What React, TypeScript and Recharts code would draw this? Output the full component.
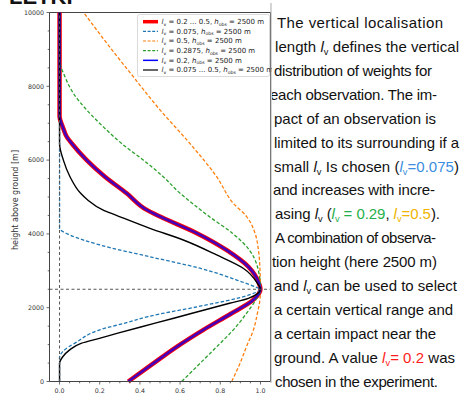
import React from "react";
import { LineChart, Line, XAxis, YAxis, ReferenceLine } from "recharts";

// [height above ground (m), weight]
const LV_02: [number, number][] = [
  [0, 0.342], [490, 0.467], [940, 0.583], [1400, 0.716], [1850, 0.857], [2210, 0.964],
  [2500, 1.0], [2700, 0.99], [3110, 0.94], [3560, 0.832], [4020, 0.683], [4470, 0.5],
  [4650, 0.434], [5100, 0.334], [5550, 0.226], [6000, 0.135], [6450, 0.061], [6630, 0.036],
  [6900, 0.016], [7180, 0], [10000, 0],
];
const LV_0075: [number, number][] = [
  [0, 0], [650, 0], [720, 0.004], [810, 0.016], [940, 0.045], [1035, 0.075], [1400, 0.2],
  [1590, 0.33], [1760, 0.44], [2030, 0.69], [2340, 0.94], [2500, 1.0], [2550, 0.98],
  [2750, 0.882], [3070, 0.699], [3380, 0.45], [3700, 0.201], [3970, 0.052], [4150, 0], [10000, 0],
];
const LV_05: [number, number][] = [
  [0, 0.857], [490, 0.898], [940, 0.93], [1400, 0.965], [1850, 0.985], [2200, 0.997],
  [2500, 1.0], [3110, 0.997], [3560, 0.99], [4020, 0.973], [4470, 0.931], [4830, 0.865],
  [5550, 0.782], [6450, 0.649], [7360, 0.5], [8260, 0.367], [9170, 0.235], [10000, 0.12],
];
const LV_02875: [number, number][] = [
  [0, 0.608], [490, 0.699], [940, 0.782], [1400, 0.865], [1850, 0.931], [2200, 0.975],
  [2500, 1.0], [3110, 0.985], [3560, 0.945], [4020, 0.86], [4470, 0.745], [4920, 0.64],
  [5100, 0.6], [5550, 0.516], [6000, 0.417], [6450, 0.309], [6900, 0.218], [7360, 0.135],
  [7810, 0.069], [8260, 0.027], [8710, 0], [10000, 0],
];
const LV_MIX: [number, number][] = [
  [0, 0], [490, 0], [670, 0.016], [850, 0.049], [1035, 0.107], [1170, 0.198], [1310, 0.29],
  [1580, 0.476], [1850, 0.66], [2120, 0.846], [2255, 0.94], [2500, 1.0], [2660, 0.985],
  [3070, 0.914], [3430, 0.782], [3835, 0.616], [4150, 0.45], [4510, 0.28], [4650, 0.215],
  [4920, 0.14], [5100, 0.105], [5550, 0.052], [6000, 0.019], [6450, 0], [10000, 0],
];

const H_OBS = 2500;
const X_TICKS = [0, 0.05, 0.1, 0.15, 0.2, 0.25, 0.3, 0.35, 0.4, 0.45, 0.5, 0.55, 0.6, 0.65, 0.7, 0.75, 0.8, 0.85, 0.9, 0.95, 1.0];
const X_MAJOR = [0, 0.2, 0.4, 0.6, 0.8, 1.0];
const Y_TICKS = [0, 500, 1000, 1500, 2000, 2500, 3000, 3500, 4000, 4500, 5000, 5500, 6000, 6500, 7000, 7500, 8000, 8500, 9000, 9500, 10000];
const Y_MAJOR = [0, 2000, 4000, 6000, 8000, 10000];

const SERIES = [
  { key: "red", pts: LV_02, label: "0.2 ... 0.5", stroke: "#ff0000", width: 4.5, dash: undefined, opacity: 1 },
  { key: "b0075", pts: LV_0075, label: "0.075", stroke: "#1f77b4", width: 1.3, dash: "3.5 2", opacity: 1 },
  { key: "o05", pts: LV_05, label: "0.5", stroke: "#ff7f0e", width: 1.3, dash: "3.5 2", opacity: 1 },
  { key: "g02875", pts: LV_02875, label: "0.2875", stroke: "#2ca02c", width: 1.3, dash: "3.5 2", opacity: 1 },
  { key: "b02", pts: LV_02, label: "0.2", stroke: "#0000ff", width: 2.7, dash: undefined, opacity: 0.72 },
  { key: "k", pts: LV_MIX, label: "0.075 ... 0.5", stroke: "#000000", width: 1.4, dash: undefined, opacity: 1 },
];

// merge into one table keyed by height
const heights = Array.from(new Set(SERIES.flatMap((s) => s.pts.map((p) => p[0])))).sort((a, b) => a - b);
const rows = heights.map((h) => {
  const r: any = { h };
  SERIES.forEach((s) => {
    const hit = s.pts.find((p) => p[0] === h);
    r[s.key] = hit ? hit[1] : null;
  });
  return r;
});

const TICK_FONT = "DejaVu Sans";

function XTick({ x, y, payload }: any) {
  const major = X_MAJOR.some((m) => Math.abs(m - payload.value) < 1e-6);
  return (
    <g>
      <line x1={x} x2={x} y1={y} y2={y + (major ? 3 : 1.8)} stroke="#444" strokeWidth={0.8} />
      {major ? (
        <text x={x} y={y + 11} textAnchor="middle" fontFamily={TICK_FONT} fontSize={6.3} fill="#333">
          {payload.value.toFixed(1)}
        </text>
      ) : null}
    </g>
  );
}

function YTick({ x, y, payload }: any) {
  const major = Y_MAJOR.includes(payload.value);
  return (
    <g>
      <line x1={x} x2={x - (major ? 3 : 1.8)} y1={y} y2={y} stroke="#444" strokeWidth={0.8} />
      {major ? (
        <text x={x - 5.5} y={y + 2.2} textAnchor="end" fontFamily={TICK_FONT} fontSize={6.3} fill="#333">
          {payload.value}
        </text>
      ) : null}
    </g>
  );
}

type Seg = { t?: string; c?: string; lv?: boolean };
const BLUE = "#3b8ee0";
const GREEN = "#1fb04a";
const YELLOW = "#f0b400";
const RED = "#ff1c1c";

const TEXT_LINES: { x: number; w: number; segs: Seg[] }[] = [
  { x: 277, w: 166, segs: [{ t: "The vertical localisation" }] },
  { x: 275, w: 184, segs: [{ t: "length " }, { lv: true }, { t: " defines the vertical" }] },
  { x: 274, w: 158, segs: [{ t: "distribution of weights for" }] },
  { x: 270, w: 167, segs: [{ t: "each observation. The im-" }] },
  { x: 274, w: 162, segs: [{ t: "pact of an observation is" }] },
  { x: 274, w: 185, segs: [{ t: "limited to its surrounding if a" }] },
  { x: 274, w: 185, segs: [{ t: "small " }, { lv: true }, { t: " Is chosen (" }, { lv: true, c: BLUE }, { t: "=0.075", c: BLUE }, { t: ")" }] },
  { x: 273, w: 162, segs: [{ t: "and increases with incre-" }] },
  { x: 275, w: 165, segs: [{ t: "asing " }, { lv: true }, { t: " (" }, { lv: true, c: GREEN }, { t: " = 0.29", c: GREEN }, { t: ", " }, { lv: true, c: YELLOW }, { t: "=0.5", c: YELLOW }, { t: ")." }] },
  { x: 275, w: 161, segs: [{ t: "A combination of observa-" }] },
  { x: 272, w: 165, segs: [{ t: "tion height (here 2500 m)" }] },
  { x: 274, w: 183, segs: [{ t: "and " }, { lv: true }, { t: " can be used to select" }] },
  { x: 274, w: 179, segs: [{ t: "a certain vertical range and" }] },
  { x: 274, w: 162, segs: [{ t: "a certain impact near the" }] },
  { x: 274, w: 181, segs: [{ t: "ground. A value  " }, { lv: true, c: RED }, { t: "= 0.2", c: RED }, { t: " was" }] },
  { x: 275, w: 163, segs: [{ t: "chosen in the experiment." }] },
];

function segSpans(segs: Seg[], fs: number, sub: number) {
  const out: any[] = [];
  let shift = 0;
  segs.forEach((s, i) => {
    if (s.lv) {
      out.push(<tspan key={i + "l"} fontStyle="italic" fill={s.c} dy={-shift}>l</tspan>);
      out.push(<tspan key={i + "v"} fontSize={fs * 0.62} fill={s.c} dy={sub}>v</tspan>);
      shift = sub;
    } else {
      out.push(<tspan key={i} fill={s.c} dy={-shift}>{s.t}</tspan>);
      shift = 0;
    }
  });
  return out;
}

function LegendLabel({ x, y, value }: { x: number; y: number; value: string }) {
  return (
    <text x={x} y={y} fontFamily={TICK_FONT} fontSize={7} fill="#222">
      <tspan fontStyle="italic">l</tspan>
      <tspan fontSize={4.6} dy={1.6}>v</tspan>
      <tspan dy={-1.6}>{` = ${value}, `}</tspan>
      <tspan fontStyle="italic">h</tspan>
      <tspan fontSize={4.6} dy={1.6}>obs</tspan>
      <tspan dy={-1.6}>{` =  ${H_OBS} m`}</tspan>
    </text>
  );
}

export default function App() {
  return (
    <div style={{ position: "absolute", left: 0, top: 0, width: 461, height: 394, background: "#fff", overflow: "hidden" }}>
      <LineChart
        width={461}
        height={394}
        data={rows}
        layout="vertical"
        margin={{ top: 12.5, right: 190.5, bottom: 0, left: 0 }}
      >
        <XAxis
          type="number"
          domain={[-0.05, 1.05]}
          allowDataOverflow
          ticks={X_TICKS}
          interval={0}
          height={12.5}
          tickSize={0}
          tickMargin={0}
          tickLine={false}
          tick={<XTick />}
          axisLine={{ stroke: "#444", strokeWidth: 1 }}
        />
        <YAxis
          type="number"
          dataKey="h"
          domain={[0, 10000]}
          reversed
          ticks={Y_TICKS}
          interval={0}
          width={49.5}
          tickSize={0}
          tickMargin={0}
          tickLine={false}
          tick={<YTick />}
          axisLine={{ stroke: "#444", strokeWidth: 1 }}
        />
        <ReferenceLine y={10000} stroke="#444" strokeWidth={1} />
        <ReferenceLine x={1.05} stroke="#444" strokeWidth={1} />
        {SERIES.map((s) => (
          <Line
            key={s.key}
            dataKey={s.key}
            type="monotone"
            stroke={s.stroke}
            strokeWidth={s.width}
            strokeDasharray={s.dash}
            strokeOpacity={s.opacity}
            dot={false}
            activeDot={false}
            connectNulls
            isAnimationActive={false}
          />
        ))}
        <ReferenceLine x={0} stroke="#555" strokeWidth={1} strokeDasharray="3 2.5" />
        <ReferenceLine y={H_OBS} stroke="#555" strokeWidth={1} strokeDasharray="3 2.5" />
      </LineChart>

      <svg width={461} height={394} style={{ position: "absolute", left: 0, top: 0, pointerEvents: "none" }}>
        <defs>
          <clipPath id="panel">
            <rect x={272} y={0} width={189} height={394} />
          </clipPath>
        </defs>
        {/* heading above the plot, cut off at the top edge as in the source */}
        <text x={9} y={3.5} fontFamily="Liberation Sans" fontWeight="bold" fontSize={22} fill="#111">LETKF</text>

        <text
          transform="translate(17.5,200) rotate(-90)"
          textAnchor="middle"
          fontFamily={TICK_FONT}
          fontSize={8}
          fill="#333"
        >
          height above ground [m]
        </text>

        {/* legend */}
        <rect x={137.5} y={14.5} width={132} height={62} rx={2} fill="#fff" fillOpacity={0.85} stroke="#d0d0d0" strokeWidth={0.8} />
        {SERIES.map((s, i) => {
          const cy = 21.7 + i * 9.66;
          return (
            <g key={s.key}>
              <line
                x1={143}
                x2={158}
                y1={cy}
                y2={cy}
                stroke={s.key === "b02" ? "#0000ff" : s.stroke}
                strokeWidth={s.key === "red" ? 3.5 : s.key === "b02" ? 1.5 : 1.2}
                strokeDasharray={s.dash ? "3 1.6" : undefined}
              />
              <LegendLabel x={161.5} y={cy + 2.4} value={s.label} />
            </g>
          );
        })}

        {/* explanatory text panel */}
        <rect x={272} y={0} width={189} height={394} fill="#fff" />
        <line x1={271} x2={271} y1={3} y2={383} stroke="#aaa" strokeWidth={1} />
        <g clipPath="url(#panel)">
          {TEXT_LINES.map((ln, i) => (
            <text
              key={i}
              x={ln.x}
              y={28.3 + i * 23.88}
              fontFamily="Liberation Sans"
              fontSize={15}
              fill="#111"
              textLength={ln.w}
              lengthAdjust="spacing"
            >
              {segSpans(ln.segs, 15, 3)}
            </text>
          ))}
        </g>
      </svg>
    </div>
  );
}
